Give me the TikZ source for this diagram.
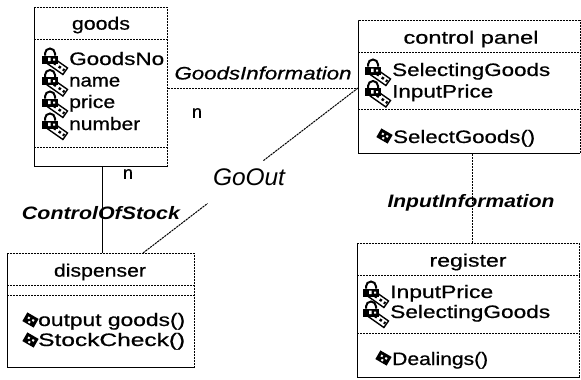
\documentclass[tikz,border=0pt]{standalone}
\usepackage{fontspec}
\setmainfont{Liberation Sans}
\newfontfamily\umlfont[FakeBold=0.6]{Liberation Sans}
\usetikzlibrary{calc}
\newcommand{\sw}[2]{\resizebox{#1pt}{\height}{#2}}
\tikzset{
  umlbox/.style={draw, line width=0.9pt, dash pattern=on 2.2pt off 0.8pt, inner sep=0pt, anchor=north west},
  sepline/.style={line width=0.9pt, dash pattern=on 2.2pt off 0.8pt},
  txt/.style={inner sep=0pt, font=\fontsize{18}{20}\umlfont, anchor=base west},
  ttl/.style={inner sep=0pt, font=\fontsize{18}{20}\umlfont},
  assoc/.style={line width=1pt, dash pattern=on 2.2pt off 0.8pt},
  solidassoc/.style={line width=1.4pt},
  lbl/.style={inner sep=0pt, font=\fontsize{18}{20}\umlfont\itshape},
  blbl/.style={inner sep=0pt, font=\fontsize{18}{20}\selectfont\bfseries\itshape},
  attricon/.pic={
    \draw[line width=1.4pt, fill=white, rotate around={-35:(16,7)}] (7,3) rectangle (26,11);
    \fill[rotate around={-35:(16,7)}] (12,5.5) rectangle (14.5,8) (18,5.5) rectangle (20.5,8) (23,5.5) rectangle (25,8);
    \draw[line width=2pt] (4,-3) -- (4,-5) arc[start angle=180,end angle=360,radius=5] -- (14,-3);
    \fill (1,-3) rectangle (17,5);
    \fill[white] (7,-1) rectangle (9.5,2.5) (12,0) rectangle (14,2);
  },
  methicon/.pic={
    \fill[rotate around={-30:(6.5,0)}] (0,-5) rectangle (13,5);
    \fill[white, rotate around={-30:(6.5,0)}] (3,-2) rectangle (5,0) (8,-2) rectangle (10,0) (5.5,1.5) rectangle (7.5,3.5);
  }
}
\begin{document}
\begin{tikzpicture}[x=1pt,y=-1pt]
\useasboundingbox (0,0) rectangle (581,380);

% boxes
\node[umlbox, minimum width=133pt, minimum height=159pt] (goods) at (34,7) {};
\node[umlbox, minimum width=221.5pt, minimum height=133pt] (cpanel) at (358,20) {};
\node[umlbox, minimum width=222pt, minimum height=134pt] (register) at (357,243) {};
\node[umlbox, minimum width=187pt, minimum height=114pt] (disp) at (7,253) {};

% compartment lines
\draw[sepline] (goods.west |- 0,39) -- (goods.east |- 0,39);
\draw[sepline] (goods.west |- 0,147) -- (goods.east |- 0,147);
\draw[sepline] (cpanel.west |- 0,52) -- (cpanel.east |- 0,52);
\draw[sepline] (cpanel.west |- 0,109) -- (cpanel.east |- 0,109);
\draw[sepline] (register.west |- 0,275) -- (register.east |- 0,275);
\draw[sepline] (register.west |- 0,333) -- (register.east |- 0,333);
\draw[sepline] (disp.west |- 0,285) -- (disp.east |- 0,285);
\draw[sepline] (disp.west |- 0,295) -- (disp.east |- 0,295);

% titles
\node[ttl] (goodsT) at (101,25) {\sw{58}{goods}};
\node[ttl] (cpanelT) at (471,39) {\sw{135}{control panel}};
\node[ttl] (registerT) at (468,262) {\sw{77}{register}};
\node[ttl] (dispT) at (100,272) {\sw{92}{dispenser}};

% goods attributes
\pic at (41,58.5) {attricon};
\pic at (41,80) {attricon};
\pic at (41,101.5) {attricon};
\pic at (41,123.5) {attricon};
\node[txt] (ga1) at (69,65) {\sw{95}{GoodsNo}};
\node[txt] (ga2) at (69,86.5) {\sw{51}{name}};
\node[txt] (ga3) at (69,108) {\sw{46}{price}};
\node[txt] (ga4) at (69,130) {\sw{71}{number}};

% control panel
\pic at (364,69.5) {attricon};
\pic at (364,91) {attricon};
\node[txt] (ca1) at (392,76) {\sw{158}{SelectingGoods}};
\node[txt] (ca2) at (392,97.5) {\sw{101}{InputPrice}};
\pic at (378,136) {methicon};
\node[txt] (cm1) at (393,143) {\sw{142}{SelectGoods()}};

% register
\pic at (362,291.5) {attricon};
\pic at (362,311.5) {attricon};
\node[txt] (ra1) at (390,298) {\sw{103}{InputPrice}};
\node[txt] (ra2) at (390,318) {\sw{160}{SelectingGoods}};
\pic at (377,358) {methicon};
\node[txt] (rm1) at (392,365) {\sw{96}{Dealings()}};

% dispenser
\pic at (24,320) {methicon};
\pic at (24,340) {methicon};
\node[txt] (dm1) at (38,326) {\sw{147}{output goods()}};
\node[txt] (dm2) at (38,346) {\sw{147}{StockCheck()}};

% connectors
\draw[assoc] (goods.east |- 0,88) -- (cpanel.west |- 0,88);
\draw[solidassoc] ([xshift=1.5pt]goods.south) -- ([xshift=1.5pt]goods.south |- disp.north);
\draw[assoc] ([xshift=3.5pt]cpanel.south) -- ([xshift=3.5pt]cpanel.south |- register.north);
\coordinate (goA) at ($(disp.north west)+(136,0)$);
\coordinate (goB) at (cpanel.west |- 0,88);
\draw[assoc] (goA) -- ($(goA)!0.30!(goB)$);
\draw[assoc] ($(goA)!0.56!(goB)$) -- (goB);

% labels
\node[lbl] (l1) at (263,73) {\sw{177}{GoodsInformation}};
\node[ttl] (n1) at (197,113) {n};
\node[ttl] (n2) at (128,174) {n};
\node[inner sep=0pt, font=\fontsize{24}{26}\selectfont\itshape] (l2) at (249,177) {\sw{72}{GoOut}};
\node[blbl] (l3) at (101,213) {\sw{158}{ControlOfStock}};
\node[blbl] (l4) at (471,203) {\sw{167}{InputInformation}};
\end{tikzpicture}
\end{document}
